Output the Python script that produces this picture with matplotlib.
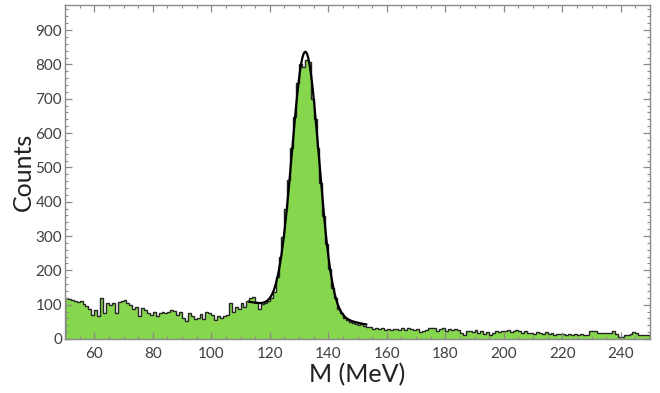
import numpy as np
import matplotlib
matplotlib.use("Agg")
import matplotlib.pyplot as plt
from matplotlib.ticker import MultipleLocator

plt.rcParams['font.family'] = ['Lato', 'DejaVu Sans']

# ---- data ----
bin_lo = 50          # MeV, left edge of first bin
bin_width = 1        # MeV
counts = [
    # 50-59
    118, 116, 113, 112, 108, 111, 102, 95, 86, 70,
    # 60-69
    85, 66, 118, 75, 104, 99, 104, 75, 108, 110,
    # 70-79
    113, 104, 99, 86, 94, 66, 89, 85, 75, 70,
    # 80-89
    80, 66, 75, 80, 77, 78, 85, 82, 70, 80,
    # 90-99
    60, 52, 75, 66, 58, 62, 74, 58, 80, 76,
    # 100-109
    70, 56, 66, 62, 68, 70, 104, 80, 94, 86,
    # 110-119
    104, 94, 110, 118, 122, 108, 86, 102, 104, 112,
    # 120-129
    118, 138, 180, 240, 298, 378, 462, 556, 648, 745,
    # 130-139
    800, 792, 812, 806, 700, 642, 556, 455, 358, 278,
    # 140-149
    205, 150, 118, 86, 76, 62, 56, 50, 48, 44,
    # 150-159
    42, 45, 38, 36, 34, 30, 32, 28, 31, 27,
    # 160-169
    29, 26, 30, 28, 27, 31, 27, 33, 29, 26,
    # 170-179
    28, 20, 22, 25, 33, 32, 33, 24, 30, 32,
    # 180-189
    22, 28, 25, 30, 26, 18, 12, 22, 24, 20,
    # 190-199
    26, 18, 22, 14, 20, 12, 18, 22, 20, 24,
    # 200-209
    24, 26, 20, 24, 26, 22, 18, 22, 17, 18,
    # 210-219
    16, 20, 18, 16, 19, 15, 18, 13, 16, 14,
    # 220-229
    15, 13, 15, 12, 14, 11, 15, 12, 13, 22,
    # 230-239
    24, 22, 18, 17, 18, 17, 18, 24, 14, 6,
    # 240-249
    7, 12, 12, 14, 20, 18, 12, 13, 12, 12,
]

# fit parameters (Gaussian peak on linear background)
fit_amp = 760.0
fit_mean = 132.2
fit_sigma = 4.6
fit_bkg_at_mean = 76.6
fit_bkg_slope = -1.65
fit_range = (113.0, 153.0)

x_ticks = [60, 80, 100, 120, 140, 160, 180, 200, 220, 240]
y_ticks = [0, 100, 200, 300, 400, 500, 600, 700, 800, 900]

# ---- figure ----
fig = plt.figure(figsize=(6.6, 3.93), dpi=100)
ax = fig.add_axes([65 / 660, 54 / 393, 585 / 660, 334 / 393])

counts = np.asarray(counts, dtype=float)
edges = bin_lo + bin_width * np.arange(len(counts) + 1)

green = '#86d64e'
ax.stairs(counts, edges, fill=True, color=green, linewidth=0)
ax.stairs(counts, edges, fill=False, color='#262626', linewidth=1.0)

xf = np.linspace(fit_range[0], fit_range[1], 400)
yf = (fit_amp * np.exp(-0.5 * ((xf - fit_mean) / fit_sigma) ** 2)
      + fit_bkg_at_mean + fit_bkg_slope * (xf - fit_mean))
ax.plot(xf, yf, color='black', linewidth=1.6)

ax.set_xlim(50, 250)
ax.set_ylim(0, 973)

ax.set_xticks(x_ticks)
ax.set_yticks(y_ticks)
ax.xaxis.set_minor_locator(MultipleLocator(5))
ax.yaxis.set_minor_locator(MultipleLocator(20))

frame_col = '#8a8a8a'
for s in ax.spines.values():
    s.set_color(frame_col)
    s.set_linewidth(1.0)

ax.tick_params(which='both', direction='in', top=True, right=True,
               color=frame_col, labelcolor='#404040', labelsize=11)
ax.tick_params(which='major', length=5, width=0.9)
ax.tick_params(which='minor', length=2.5, width=0.8)
ax.tick_params(axis='x', which='major', pad=6)
ax.tick_params(axis='y', which='major', pad=2)

ax.set_xlabel('M (MeV)', fontsize=18, color='#222222', labelpad=1)
ax.set_ylabel('Counts', fontsize=18, color='#222222')
ax.yaxis.set_label_coords(-0.052, 0.5)

fig.savefig('out.png', dpi=100)
